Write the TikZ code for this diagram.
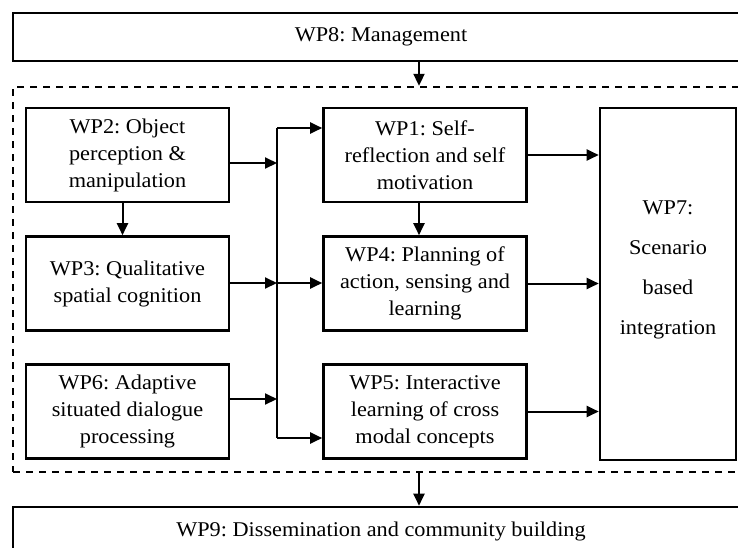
\documentclass[tikz,border=0pt]{standalone}
\usepackage{fontspec}
\setmainfont[FakeStretch=1.06]{Liberation Serif}
\usetikzlibrary{arrows.meta}
\frenchspacing

\begin{document}
\begin{tikzpicture}[x=1pt,y=-1pt,
    wpbox/.style={draw,line width=2.6pt,inner sep=0pt,align=center,
      minimum width=203pt,minimum height=94pt,
      font=\fontsize{21}{27}\selectfont},
    widebox/.style={draw,line width=2.6pt,inner sep=0pt,
      minimum width=736pt,minimum height=48pt,
      font=\fontsize{21}{27}\selectfont},
    link/.style={line width=2pt,-{Triangle[length=12pt,width=11pt]}}]
  \useasboundingbox (0,0) rectangle (738,547);
  % management on top, dissemination below
  \node[widebox] (wp8) at (381,37) {WP8: Management};
  \node[widebox] (wp9) at (381,531) {WP9: Dissemination and community building};
  \node[draw,line width=2.4pt,dash pattern=on 7pt off 6pt,
    minimum width=736pt,minimum height=385pt] (frame) at (381,279.5) {};
  % left column
  \node[wpbox] (wp2) at (127.5,155) {WP2: Object\\perception \&\\manipulation};
  \node[wpbox] (wp3) at (127.5,283.5) {WP3: Qualitative\\spatial cognition};
  \node[wpbox] (wp6) at (127.5,411.5) {WP6: Adaptive\\situated dialogue\\processing};
  % middle column
  \node[wpbox] (wp1) at (425,155) {WP1: Self-\\reflection and self\\motivation};
  \node[wpbox] (wp4) at (425,283.5) {WP4: Planning of\\action, sensing and\\learning};
  \node[wpbox] (wp5) at (425,411.5) {WP5: Interactive\\learning of cross\\modal concepts};
  % integration
  \node[draw,line width=2.6pt,minimum width=136pt,minimum height=352pt] (wp7) at (668,284) {};
  \node[align=center,font=\fontsize{21}{40}\selectfont] (wp7text) at (668,270)
    {WP7:\\Scenario\\based\\integration};
  % bus
  \coordinate (bustop) at (277,128);
  \coordinate (busbot) at (277,438);
  \coordinate (j2) at (277,163);
  \coordinate (j3) at (277,283);
  \coordinate (j6) at (277,399);
  \coordinate (col) at (419,0);
  \draw[line width=2pt] (bustop) -- (busbot);
  \draw[link] (wp2.east |- j2) -- (j2);
  \draw[link] (wp3.east |- j3) -- (j3);
  \draw[link] (wp6.east |- j6) -- (j6);
  \draw[link] (bustop) -- (wp1.west |- bustop);
  \draw[link] (j3) -- (wp4.west |- j3);
  \draw[link] (busbot) -- (wp5.west |- busbot);
  \draw[link] ([xshift=-5pt]wp2.south) -- ([xshift=-5pt]wp3.north);
  \draw[link] (wp1.south -| col) -- (wp4.north -| col);
  \draw[link] (wp1) -- (wp7.west |- wp1);
  \draw[link] (wp4) -- (wp7.west |- wp4);
  \draw[link] (wp5) -- (wp7.west |- wp5);
  \draw[link] (wp8.south -| col) -- (frame.north -| col);
  \draw[link] (frame.south -| col) -- (wp9.north -| col);
\end{tikzpicture}
\end{document}
